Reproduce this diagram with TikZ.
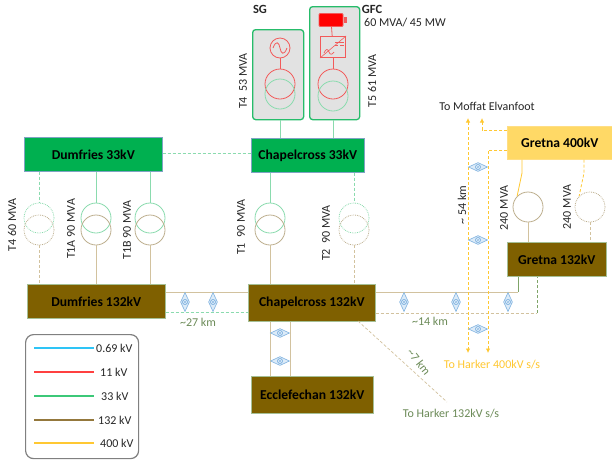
\documentclass[tikz,border=0pt]{standalone}
\usepackage{fontspec}
\setmainfont{Carlito}
\usetikzlibrary{arrows.meta,shapes.geometric}
\definecolor{Ink}{HTML}{262626}
\definecolor{Green}{HTML}{00B050}
\definecolor{GreenLine}{HTML}{8ADBAE}
\definecolor{Brown}{HTML}{7F6000}
\definecolor{BrownLine}{HTML}{D2C29E}
\definecolor{Amber}{HTML}{FFD966}
\definecolor{Gold}{HTML}{FFC832}
\definecolor{Redline}{HTML}{F25A5A}
\definecolor{Panel}{HTML}{E2E2E2}
\definecolor{Breaker}{HTML}{7FB2E0}
\definecolor{BreakerPale}{HTML}{DCEBF8}
\definecolor{Olive}{HTML}{7FA468}
\definecolor{LegCyan}{HTML}{2EC4F6}
\definecolor{LegRed}{HTML}{FF4040}
\definecolor{LegGreen}{HTML}{3CC878}
\definecolor{LegBrown}{HTML}{94783C}
\tikzset{
  >={Latex[length=4.5pt,width=4.5pt]},
  bus/.style={line width=.6pt,font=\bfseries\fontsize{13.6}{14}\selectfont,text=black,inner sep=0pt,anchor=north west},
  busg/.style={bus,fill=Green,draw=Breaker!70!gray},
  busb/.style={bus,fill=Brown,draw=Olive!70!white},
  busy/.style={bus,fill=Amber,draw=Gold!60!white},
  panelbox/.style={draw=Green!85!white,line width=1.3pt,fill=Panel,rounded corners=3pt,inner sep=0pt,anchor=north west},
  wind/.style={circle,minimum size=30pt,inner sep=0pt,line width=.8pt},
  windg/.style={wind,draw=GreenLine},
  windgd/.style={windg,densely dotted},
  windb/.style={wind,draw=BrownLine!90!black},
  windbd/.style={windb,densely dotted},
  windr/.style={wind,draw=Redline},
  lg/.style={draw=GreenLine,line width=1pt},
  lgd/.style={lg,densely dashed,line width=.8pt},
  lb/.style={draw=BrownLine,line width=1pt},
  lbd/.style={lb,densely dashed,line width=.8pt},
  lr/.style={draw=Redline,line width=.8pt},
  ly/.style={draw=Gold,line width=.8pt},
  lyd/.style={ly,densely dashed},
  brkv/.style={diamond,draw=Breaker,fill=BreakerPale,line width=.6pt,minimum width=9pt,minimum height=19pt,inner sep=0pt,
    path picture={\draw[Breaker] (path picture bounding box.center) circle (2.6pt);
      \draw[Breaker,line width=.35pt] ([shift={(-1.8pt,-1.8pt)}]path picture bounding box.center)--([shift={(1.8pt,1.8pt)}]path picture bounding box.center)
        ([shift={(-1.8pt,1.8pt)}]path picture bounding box.center)--([shift={(1.8pt,-1.8pt)}]path picture bounding box.center);}},
  brkh/.style={brkv,minimum width=19pt,minimum height=9pt},
  lab/.style={font=\fontsize{12}{13}\selectfont,text=Ink,inner sep=0pt},
  vlab/.style={lab,rotate=90},
  dist/.style={lab,text=Olive!85!black},
  legline/.style={line width=1.5pt}
}
\begin{document}
\begin{tikzpicture}[x=1pt,y=-1pt]
  \path[use as bounding box,fill=white] (0,0) rectangle (612,459);
  % bus boxes
  \node[busg,minimum width=138pt,minimum height=34pt] (dum33) at (24,137) {Dumfries 33kV};
  \node[busg,minimum width=113pt,minimum height=34pt] (cha33) at (251,138) {Chapelcross 33kV};
  \node[busb,minimum width=138pt,minimum height=34pt] (dum132) at (27,284) {Dumfries 132kV};
  \node[busb,minimum width=127pt,minimum height=37pt] (cha132) at (248,284) {Chapelcross 132kV};
  \node[busb,minimum width=122pt,minimum height=37pt] (ecc132) at (251,376) {Ecclefechan 132kV};
  \node[busy,minimum width=105pt,minimum height=33pt] (gre400) at (507,126) {Gretna 400kV};
  \node[busb,minimum width=99pt,minimum height=34pt] (gre132) at (507,242) {Gretna 132kV};
  % generator panels
  \node[panelbox,minimum width=51pt,minimum height=90pt] (sgbox) at (252,29) {};
  \node[panelbox,minimum width=50pt,minimum height=113pt] (gfcbox) at (309,6) {};
  \node[lab,font=\bfseries\fontsize{12.5}{13}\selectfont] (sglab) at (260,9) {SG};
  \node[lab,font=\bfseries\fontsize{12.5}{13}\selectfont] (gfclab) at (372,9) {GFC};
  \node[lab,anchor=west] (gfcrate) at (364,23) {60 MVA/ 45 MW};
  \node[circle,draw=Redline,line width=.8pt,minimum size=20pt,inner sep=0pt] (gen) at (280,48) {};
  \draw[Redline,line width=.8pt] (273,48) .. controls (276,40) and (279,42) .. (280,48) .. controls (281,54) and (284,56) .. (287,48);
  \node[windr] (sgr) at (280,84) {}; \node[windg] (sgg) at (280,94) {};
  \node[windr] (gfcr) at (333,84) {}; \node[windg] (gfcg) at (333,96) {};
  \node[draw=Redline,fill=red,line width=.9pt,rounded corners=1pt,minimum width=24pt,minimum height=13pt,inner sep=0pt] (batt) at (331,20) {};
  \node[fill=Redline,minimum width=3pt,minimum height=6pt,inner sep=0pt,anchor=west] (nub) at (batt.east) {};
  \node[draw=Redline,fill=Panel,line width=1.1pt,minimum width=25pt,minimum height=21pt,inner sep=0pt] (conv) at (333,47) {};
  \draw[Redline,line width=.6pt] (conv.south west)--(conv.north east);
  \draw[Redline,line width=.7pt] (324,53) .. controls (326,48) and (328,49) .. (329,52) .. controls (330,55) and (332,55) .. (334,52);
  \draw[Redline,line width=.6pt] (335,42)--(344,42) (335,45)--(338,45) (340,45)--(344,45);
  \draw[lr] (gen)--(sgr); \draw[lr] (batt)--(conv); \draw[lr] (conv)--(gfcr);
  \draw[lg] (sgbox.south -| sgg)--(cha33.north -| sgg);
  \draw[lg] (gfcbox.south -| gfcg)--(cha33.north -| gfcg);
  % transformers
  \node[windgd] (t4g) at (39,218) {}; \node[windbd] (t4b) at (39,230) {};
  \node[windg] (t1ag) at (96,218) {}; \node[windb] (t1ab) at (96,230) {};
  \node[windg] (t1bg) at (150,218) {}; \node[windb] (t1bb) at (150,230) {};
  \node[windg] (t1g) at (270,218) {}; \node[windb] (t1b) at (270,230) {};
  \node[windgd] (t2g) at (354,218) {}; \node[windbd] (t2b) at (354,230) {};
  \node[windb] (gt1) at (528,207) {}; \node[windbd] (gt2) at (590,207) {};
  \draw[lgd] (dum33.south -| t4g)--(t4g); \draw[lbd] (t4b)--(dum132.north -| t4b);
  \draw[lg] (dum33.south -| t1ag)--(t1ag); \draw[lb] (t1ab)--(dum132.north -| t1ab);
  \draw[lg] (dum33.south -| t1bg)--(t1bg); \draw[lb] (t1bb)--(dum132.north -| t1bb);
  \draw[lg] (cha33.south -| t1g)--(t1g); \draw[lb] (t1b)--(cha132.north -| t1b);
  \draw[lgd] (cha33.south -| t2g)--(t2g); \draw[lbd] (t2b)--(cha132.north -| t2b);
  \draw[lb] (gt1)--(gre132.north -| gt1); \draw[lbd] (gt2)--(gre132.north -| gt2);
  \coordinate (gt1a) at (522,173); \coordinate (gt2a) at (584,173);
  \draw[ly] (gre400.south -| gt1a)--(gt1a)--(gt1.north west);
  \draw[lyd] (gre400.south -| gt2a)--(gt2a)--(gt2.north west);
  % 33kV tie and 132kV circuits
  \coordinate (tie) at (200,153);
  \draw[lgd] (dum33.east |- tie)--(cha33.west |- tie);
  \coordinate (dt1) at (200,292); \coordinate (dt2) at (200,312);
  \draw[lb] (dum132.east |- dt1)--(cha132.west |- dt1);
  \draw[lgd] (dum132.east |- dt2)--(cha132.west |- dt2);
  \coordinate (gr1) at (518,292); \coordinate (gr2) at (537,313);
  \draw[lb] (cha132.east |- gr1)--(gr1);
  \draw[Olive,line width=.7pt] (gr1)--(gre132.south -| gr1);
  \draw[lbd] (cha132.east |- gr2)--(gr2);
  \draw[Olive,densely dashed,line width=.7pt] (gr2)--(gre132.south -| gr2);
  \coordinate (ec1) at (270,350); \coordinate (ec2) at (290,350);
  \draw[lb] (cha132.south -| ec1)--(ecc132.north -| ec1);
  \draw[lb] (cha132.south -| ec2)--(ecc132.north -| ec2);
  \coordinate (hk0) at (358,321); \coordinate (hark132) at (447,402);
  \draw[lbd,line width=.7pt] (hk0)--(hark132);
  % 400kV circuits
  \coordinate (mof1) at (468,118); \coordinate (mof2) at (482,118);
  \coordinate (har1) at (468,353); \coordinate (har2) at (488,353);
  \coordinate (g1) at (482,130); \coordinate (g2) at (488,150);
  \draw[lyd,<-] (mof2)--(g1)--(gre400.west |- g1);
  \draw[lyd,->] (gre400.west |- g2)--(g2)--(har2);
  \draw[lyd,<->] (mof1)--(har1);
  % breakers
  \node[brkv] (bd1) at (185,302) {}; \node[brkv] (bd2) at (213,302) {};
  \node[brkv] (bc1) at (404,302) {}; \node[brkv] (bc2) at (456,302) {}; \node[brkv] (bc3) at (508,302) {};
  \node[brkh] (be1) at (280,333) {}; \node[brkh] (be2) at (280,361) {};
  \node[brkh] (by1) at (478,167) {}; \node[brkh] (by2) at (478,240) {}; \node[brkh] (by3) at (478,329) {};
  % labels
  \node[vlab] (lt4s) at (243,81) {T4\ \ 53 MVA};
  \node[vlab] (lt5) at (372,81) {T5 61 MVA};
  \node[vlab] (lt4) at (12,225) {T4 60 MVA};
  \node[vlab] (lt1a) at (71,229) {T1A 90 MVA};
  \node[vlab] (lt1b) at (127,230) {T1B 90 MVA};
  \node[vlab] (lt1) at (241,227) {T1\ \ 90 MVA};
  \node[vlab] (lt2) at (326,233) {T2\ \ 90 MVA};
  \node[vlab] (lg1) at (504,208) {240 MVA};
  \node[vlab] (lg2) at (567,207) {240 MVA};
  \node[vlab] (l54) at (462,205) {\textasciitilde\ 54 km};
  \node[lab] (lmof) at (487,106) {To Moffat Elvanfoot};
  \node[dist] (l27) at (198,322) {\textasciitilde27 km};
  \node[dist] (l14) at (430,321) {\textasciitilde14 km};
  \node[dist,rotate=-52] (l7) at (419,362) {\textasciitilde7 km};
  \node[lab,text=Gold] (lh400) at (492,365) {To Harker 400kV s/s};
  \node[dist] (lh132) at (451,414) {To Harker 132kV s/s};
  % legend
  \node[draw=gray,line width=1.2pt,rounded corners=8pt,minimum width=113pt,minimum height=124pt,inner sep=0pt,anchor=north west] (legend) at (25,334) {};
  \foreach \name/\yy/\col/\xx/\txt in {a/348/LegCyan/96/0.69 kV,b/372/LegRed/100/11 kV,c/396/LegGreen/101/33 kV,d/420/LegBrown/98/132 kV,e/443/Gold/100/400 kV}{
    \coordinate (l\name1) at (34,\yy); \coordinate (l\name2) at (94,\yy);
    \draw[legline,draw=\col] (l\name1)--(l\name2);
    \node[lab,anchor=west] (t\name) at (\xx,\yy) {\txt};
  }
\end{tikzpicture}
\end{document}
